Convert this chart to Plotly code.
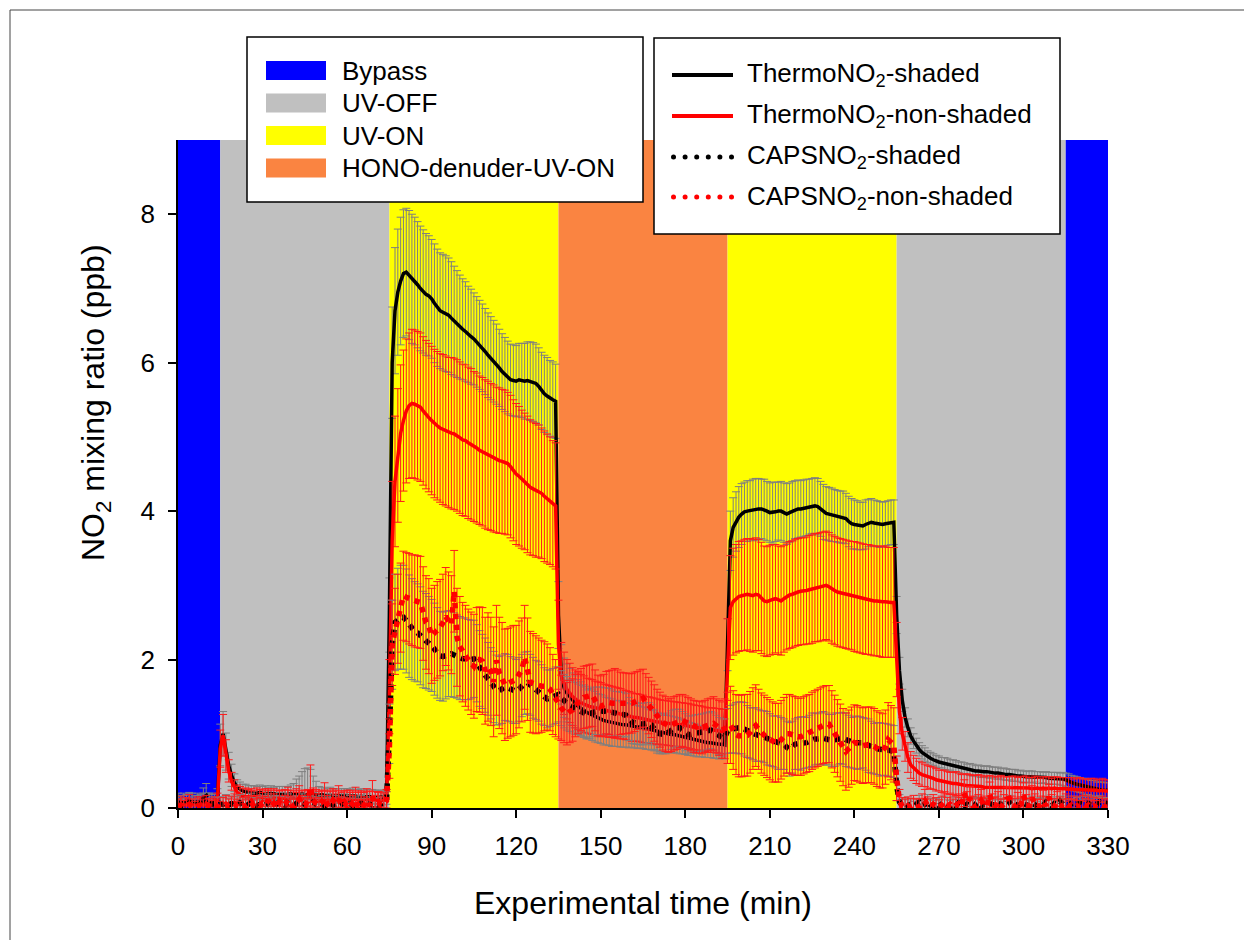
import plotly.graph_objects as go

# ---------------- data ----------------
time_min = list(range(0, 331))

band_start = [0, 15, 75, 135, 195, 255, 315]
band_end = [15, 75, 135, 195, 255, 315, 330]
band_label = ["Bypass", "UV-OFF", "UV-ON", "HONO-denuder-UV-ON", "UV-ON", "UV-OFF", "Bypass"]

band_names = ["Bypass", "UV-OFF", "UV-ON", "HONO-denuder-UV-ON"]
series_names = ["ThermoNO<sub>2</sub>-shaded", "ThermoNO<sub>2</sub>-non-shaded",
                "CAPSNO<sub>2</sub>-shaded", "CAPSNO<sub>2</sub>-non-shaded"]

x_ticks = [0, 30, 60, 90, 120, 150, 180, 210, 240, 270, 300, 330]
y_ticks = [0, 2, 4, 6, 8]

thermo_shaded = [
    0.08, 0.07, 0.08, 0.07, 0.08, 0.08, 0.07, 0.08, 0.07, 0.08,
    0.08, 0.07, 0.08, 0.08, 0.12, 0.85, 1.00, 0.76, 0.57, 0.44,
    0.34, 0.28, 0.25, 0.23, 0.22, 0.21, 0.21, 0.20, 0.20, 0.21,
    0.20, 0.20, 0.19, 0.20, 0.19, 0.19, 0.20, 0.19, 0.18, 0.19,
    0.19, 0.18, 0.19, 0.18, 0.19, 0.18, 0.18, 0.19, 0.18, 0.18,
    0.17, 0.18, 0.17, 0.17, 0.18, 0.17, 0.16, 0.17, 0.16, 0.17,
    0.16, 0.16, 0.17, 0.16, 0.15, 0.16, 0.15, 0.15, 0.16, 0.15,
    0.15, 0.14, 0.15, 0.14, 0.15, 2.60, 6.00, 6.70, 6.95, 7.10,
    7.20, 7.22, 7.18, 7.13, 7.10, 7.05, 7.00, 6.96, 6.92, 6.90,
    6.86, 6.80, 6.74, 6.70, 6.68, 6.66, 6.64, 6.60, 6.56, 6.52,
    6.48, 6.45, 6.42, 6.38, 6.35, 6.32, 6.28, 6.24, 6.20, 6.15,
    6.10, 6.06, 6.02, 5.98, 5.93, 5.88, 5.84, 5.80, 5.77, 5.76,
    5.75, 5.77, 5.76, 5.75, 5.76, 5.75, 5.74, 5.72, 5.68, 5.62,
    5.58, 5.55, 5.52, 5.50, 5.48, 2.60, 1.80, 1.62, 1.55, 1.50,
    1.45, 1.41, 1.37, 1.34, 1.31, 1.29, 1.27, 1.25, 1.23, 1.21,
    1.20, 1.18, 1.17, 1.16, 1.15, 1.14, 1.14, 1.13, 1.12, 1.12,
    1.11, 1.11, 1.10, 1.09, 1.09, 1.08, 1.07, 1.06, 1.05, 1.04,
    1.03, 1.02, 1.01, 1.00, 1.00, 0.99, 0.99, 0.98, 0.97, 0.96,
    0.95, 0.94, 0.93, 0.92, 0.91, 0.90, 0.90, 0.89, 0.88, 0.88,
    0.87, 0.87, 0.86, 0.86, 0.85, 2.20, 3.60, 3.78, 3.86, 3.92,
    3.96, 3.99, 4.00, 4.01, 4.02, 4.02, 4.03, 4.03, 4.02, 4.00,
    3.98, 3.98, 3.99, 4.00, 4.00, 3.98, 3.96, 3.98, 4.00, 4.02,
    4.03, 4.03, 4.04, 4.05, 4.06, 4.07, 4.07, 4.06, 4.03, 3.99,
    3.97, 3.96, 3.95, 3.94, 3.93, 3.92, 3.92, 3.90, 3.86, 3.83,
    3.82, 3.81, 3.80, 3.80, 3.82, 3.84, 3.85, 3.84, 3.83, 3.82,
    3.82, 3.83, 3.84, 3.85, 3.85, 2.60, 1.85, 1.45, 1.22, 1.08,
    0.97, 0.90, 0.84, 0.79, 0.75, 0.72, 0.69, 0.67, 0.65, 0.63,
    0.62, 0.61, 0.60, 0.59, 0.58, 0.57, 0.56, 0.55, 0.54, 0.53,
    0.52, 0.52, 0.51, 0.50, 0.50, 0.49, 0.49, 0.49, 0.48, 0.48,
    0.47, 0.47, 0.46, 0.46, 0.45, 0.45, 0.44, 0.44, 0.43, 0.43,
    0.42, 0.42, 0.42, 0.42, 0.42, 0.41, 0.41, 0.41, 0.41, 0.40,
    0.40, 0.40, 0.40, 0.39, 0.39, 0.38, 0.36, 0.34, 0.33, 0.32,
    0.31, 0.30, 0.29, 0.28, 0.27, 0.26, 0.25, 0.25, 0.24, 0.24,
    0.24]

thermo_shaded_err = [
    0.12, 0.10, 0.12, 0.11, 0.13, 0.12, 0.10, 0.12, 0.11, 0.12,
    0.12, 0.11, 0.12, 0.10, 0.14, 0.28, 0.30, 0.25, 0.18, 0.15,
    0.12, 0.10, 0.10, 0.09, 0.10, 0.09, 0.09, 0.10, 0.09, 0.10,
    0.09, 0.10, 0.09, 0.10, 0.09, 0.10, 0.09, 0.10, 0.11, 0.10,
    0.12, 0.15, 0.20, 0.25, 0.30, 0.35, 0.36, 0.33, 0.25, 0.18,
    0.12, 0.10, 0.10, 0.09, 0.10, 0.09, 0.10, 0.09, 0.10, 0.09,
    0.10, 0.09, 0.10, 0.09, 0.10, 0.10, 0.09, 0.10, 0.09, 0.10,
    0.09, 0.10, 0.09, 0.10, 0.10, 0.50, 0.75, 0.85, 0.85, 0.86,
    0.86, 0.86, 0.87, 0.87, 0.86, 0.85, 0.84, 0.83, 0.82, 0.81,
    0.80, 0.80, 0.79, 0.78, 0.78, 0.78, 0.77, 0.76, 0.74, 0.72,
    0.70, 0.68, 0.67, 0.65, 0.64, 0.62, 0.61, 0.60, 0.59, 0.58,
    0.57, 0.56, 0.55, 0.54, 0.52, 0.51, 0.50, 0.49, 0.48, 0.48,
    0.48, 0.49, 0.50, 0.51, 0.52, 0.53, 0.53, 0.53, 0.52, 0.52,
    0.52, 0.52, 0.51, 0.51, 0.50, 0.45, 0.40, 0.40, 0.39, 0.38,
    0.37, 0.37, 0.36, 0.36, 0.35, 0.35, 0.34, 0.34, 0.34, 0.33,
    0.33, 0.33, 0.32, 0.32, 0.32, 0.31, 0.31, 0.31, 0.30, 0.30,
    0.30, 0.29, 0.29, 0.29, 0.28, 0.28, 0.28, 0.27, 0.27, 0.27,
    0.26, 0.26, 0.26, 0.25, 0.25, 0.25, 0.24, 0.24, 0.24, 0.23,
    0.23, 0.23, 0.22, 0.22, 0.22, 0.21, 0.21, 0.21, 0.20, 0.20,
    0.20, 0.20, 0.20, 0.19, 0.19, 0.35, 0.40, 0.40, 0.40, 0.41,
    0.41, 0.40, 0.41, 0.40, 0.41, 0.42, 0.41, 0.40, 0.41, 0.40,
    0.40, 0.41, 0.40, 0.39, 0.40, 0.40, 0.41, 0.40, 0.40, 0.39,
    0.39, 0.38, 0.38, 0.38, 0.37, 0.37, 0.38, 0.38, 0.37, 0.37,
    0.36, 0.36, 0.36, 0.35, 0.35, 0.35, 0.35, 0.34, 0.34, 0.34,
    0.33, 0.33, 0.32, 0.32, 0.33, 0.32, 0.32, 0.31, 0.31, 0.31,
    0.30, 0.30, 0.30, 0.30, 0.30, 0.25, 0.18, 0.15, 0.13, 0.12,
    0.11, 0.10, 0.10, 0.09, 0.09, 0.09, 0.08, 0.08, 0.08, 0.08,
    0.08, 0.07, 0.08, 0.08, 0.07, 0.08, 0.08, 0.07, 0.08, 0.08,
    0.07, 0.08, 0.08, 0.07, 0.08, 0.08, 0.07, 0.08, 0.08, 0.07,
    0.08, 0.08, 0.07, 0.08, 0.08, 0.07, 0.08, 0.08, 0.07, 0.08,
    0.08, 0.07, 0.08, 0.08, 0.07, 0.08, 0.08, 0.07, 0.08, 0.08,
    0.08, 0.08, 0.08, 0.08, 0.09, 0.09, 0.10, 0.10, 0.10, 0.10,
    0.10, 0.10, 0.11, 0.10, 0.10, 0.11, 0.10, 0.10, 0.11, 0.10,
    0.10]

thermo_nonshaded = [
    0.04, 0.05, 0.04, 0.04, 0.05, 0.04, 0.04, 0.05, 0.04, 0.04,
    0.04, 0.05, 0.04, 0.04, 0.10, 0.80, 0.98, 0.70, 0.50, 0.36,
    0.27, 0.21, 0.18, 0.16, 0.15, 0.15, 0.15, 0.14, 0.15, 0.14,
    0.14, 0.14, 0.13, 0.14, 0.14, 0.13, 0.14, 0.13, 0.13, 0.14,
    0.13, 0.13, 0.14, 0.13, 0.13, 0.12, 0.13, 0.13, 0.12, 0.13,
    0.12, 0.13, 0.12, 0.12, 0.13, 0.12, 0.12, 0.12, 0.11, 0.12,
    0.12, 0.11, 0.12, 0.11, 0.11, 0.12, 0.11, 0.11, 0.11, 0.12,
    0.11, 0.11, 0.10, 0.11, 0.11, 1.50, 3.60, 4.40, 4.75, 5.05,
    5.22, 5.35, 5.42, 5.45, 5.44, 5.42, 5.40, 5.35, 5.30, 5.26,
    5.22, 5.18, 5.15, 5.12, 5.10, 5.08, 5.06, 5.05, 5.04, 5.02,
    4.99, 4.96, 4.95, 4.92, 4.90, 4.87, 4.85, 4.82, 4.80, 4.77,
    4.75, 4.73, 4.71, 4.69, 4.68, 4.67, 4.66, 4.64, 4.60, 4.55,
    4.50, 4.47, 4.43, 4.40, 4.36, 4.32, 4.30, 4.28, 4.27, 4.24,
    4.20, 4.17, 4.14, 4.10, 4.07, 2.20, 1.78, 1.68, 1.60, 1.55,
    1.50, 1.47, 1.44, 1.42, 1.40, 1.38, 1.37, 1.36, 1.35, 1.34,
    1.33, 1.32, 1.31, 1.30, 1.30, 1.29, 1.28, 1.27, 1.26, 1.25,
    1.24, 1.23, 1.22, 1.22, 1.21, 1.20, 1.19, 1.19, 1.18, 1.17,
    1.16, 1.16, 1.15, 1.15, 1.14, 1.14, 1.13, 1.13, 1.12, 1.12,
    1.11, 1.11, 1.10, 1.09, 1.08, 1.08, 1.07, 1.06, 1.05, 1.05,
    1.05, 1.04, 1.04, 1.03, 1.03, 2.00, 2.70, 2.78, 2.82, 2.85,
    2.86, 2.87, 2.88, 2.87, 2.86, 2.88, 2.87, 2.83, 2.79, 2.78,
    2.80, 2.81, 2.82, 2.80, 2.79, 2.82, 2.85, 2.87, 2.88, 2.90,
    2.91, 2.92, 2.92, 2.93, 2.94, 2.95, 2.97, 2.97, 2.98, 2.99,
    3.00, 2.98, 2.95, 2.93, 2.91, 2.90, 2.89, 2.88, 2.87, 2.86,
    2.85, 2.84, 2.83, 2.82, 2.81, 2.81, 2.80, 2.79, 2.79, 2.78,
    2.78, 2.78, 2.77, 2.77, 2.77, 2.00, 1.30, 1.00, 0.83, 0.68,
    0.58, 0.54, 0.50, 0.47, 0.45, 0.44, 0.42, 0.41, 0.40, 0.38,
    0.37, 0.36, 0.35, 0.34, 0.34, 0.33, 0.33, 0.32, 0.31, 0.31,
    0.30, 0.30, 0.30, 0.29, 0.29, 0.29, 0.28, 0.28, 0.28, 0.28,
    0.28, 0.27, 0.28, 0.27, 0.28, 0.27, 0.27, 0.28, 0.27, 0.27,
    0.27, 0.28, 0.27, 0.26, 0.27, 0.27, 0.26, 0.27, 0.26, 0.27,
    0.26, 0.27, 0.26, 0.26, 0.27, 0.26, 0.25, 0.26, 0.25, 0.25,
    0.25, 0.24, 0.25, 0.24, 0.24, 0.25, 0.24, 0.23, 0.24, 0.23,
    0.23]

thermo_nonshaded_err = [
    0.08, 0.07, 0.09, 0.08, 0.07, 0.08, 0.09, 0.08, 0.07, 0.08,
    0.08, 0.07, 0.08, 0.08, 0.10, 0.25, 0.28, 0.22, 0.15, 0.12,
    0.11, 0.10, 0.11, 0.10, 0.12, 0.10, 0.11, 0.10, 0.12, 0.11,
    0.10, 0.12, 0.11, 0.10, 0.12, 0.11, 0.10, 0.11, 0.12, 0.10,
    0.11, 0.10, 0.12, 0.11, 0.10, 0.12, 0.11, 0.10, 0.11, 0.12,
    0.10, 0.11, 0.12, 0.10, 0.11, 0.10, 0.12, 0.11, 0.10, 0.11,
    0.12, 0.10, 0.11, 0.10, 0.12, 0.11, 0.10, 0.11, 0.12, 0.10,
    0.11, 0.10, 0.12, 0.10, 0.11, 0.50, 0.80, 0.88, 0.90, 0.92,
    0.95, 0.97, 0.98, 1.00, 1.00, 1.00, 1.00, 1.00, 1.00, 1.00,
    1.00, 1.00, 1.00, 1.00, 1.01, 1.01, 1.01, 1.02, 1.02, 1.02,
    1.02, 1.02, 1.02, 1.02, 1.02, 1.01, 1.01, 1.00, 1.00, 1.00,
    1.00, 0.99, 0.99, 0.98, 0.98, 0.97, 0.97, 0.96, 0.96, 0.95,
    0.95, 0.94, 0.93, 0.92, 0.92, 0.91, 0.90, 0.90, 0.89, 0.88,
    0.88, 0.87, 0.86, 0.85, 0.85, 0.60, 0.45, 0.42, 0.40, 0.40,
    0.39, 0.39, 0.38, 0.38, 0.38, 0.37, 0.37, 0.37, 0.36, 0.36,
    0.36, 0.35, 0.35, 0.35, 0.34, 0.34, 0.34, 0.34, 0.33, 0.33,
    0.33, 0.33, 0.32, 0.32, 0.32, 0.32, 0.31, 0.31, 0.31, 0.31,
    0.31, 0.30, 0.30, 0.30, 0.30, 0.30, 0.30, 0.30, 0.30, 0.30,
    0.30, 0.30, 0.30, 0.30, 0.30, 0.30, 0.30, 0.30, 0.30, 0.30,
    0.30, 0.30, 0.30, 0.30, 0.30, 0.55, 0.70, 0.72, 0.73, 0.74,
    0.74, 0.75, 0.75, 0.76, 0.76, 0.76, 0.75, 0.75, 0.74, 0.74,
    0.74, 0.74, 0.73, 0.73, 0.73, 0.72, 0.72, 0.72, 0.72, 0.72,
    0.72, 0.72, 0.72, 0.72, 0.73, 0.73, 0.73, 0.73, 0.73, 0.73,
    0.73, 0.73, 0.73, 0.73, 0.73, 0.73, 0.73, 0.73, 0.73, 0.73,
    0.74, 0.74, 0.74, 0.74, 0.74, 0.74, 0.74, 0.74, 0.74, 0.74,
    0.75, 0.75, 0.74, 0.74, 0.74, 0.50, 0.30, 0.22, 0.20, 0.20,
    0.18, 0.17, 0.17, 0.16, 0.16, 0.15, 0.15, 0.15, 0.15, 0.15,
    0.14, 0.15, 0.16, 0.15, 0.14, 0.15, 0.16, 0.15, 0.14, 0.15,
    0.16, 0.15, 0.14, 0.15, 0.16, 0.15, 0.14, 0.15, 0.16, 0.15,
    0.14, 0.15, 0.16, 0.15, 0.14, 0.15, 0.16, 0.15, 0.14, 0.15,
    0.16, 0.15, 0.14, 0.15, 0.16, 0.15, 0.14, 0.15, 0.16, 0.15,
    0.14, 0.15, 0.16, 0.15, 0.14, 0.15, 0.16, 0.15, 0.14, 0.15,
    0.16, 0.15, 0.14, 0.15, 0.16, 0.15, 0.14, 0.15, 0.16, 0.15,
    0.15]

caps_shaded = [
    0.05, 0.03, 0.06, 0.04, 0.08, 0.05, 0.03, 0.06, 0.04, 0.12,
    0.15, 0.08, 0.05, 0.06, 0.04, 0.06, 0.05, 0.07, 0.04, 0.06,
    0.05, 0.03, 0.07, 0.04, 0.02, 0.05, 0.08, 0.04, 0.03, 0.05,
    0.06, 0.04, 0.07, 0.05, 0.03, 0.06, 0.08, 0.05, 0.04, 0.07,
    0.05, 0.03, 0.06, 0.04, 0.07, 0.05, 0.03, 0.06, 0.08, 0.05,
    0.04, 0.06, 0.03, 0.05, 0.07, 0.04, 0.06, 0.03, 0.05, 0.07,
    0.04, 0.06, 0.03, 0.05, 0.04, 0.06, 0.03, 0.07, 0.05, 0.04,
    0.06, 0.04, 0.05, 0.07, 0.10, 1.00, 2.20, 2.50, 2.55, 2.57,
    2.57, 2.52, 2.45, 2.41, 2.38, 2.36, 2.32, 2.27, 2.25, 2.22,
    2.19, 2.14, 2.09, 2.05, 2.04, 2.06, 2.08, 2.08, 2.06, 2.04,
    2.02, 2.01, 2.01, 2.00, 2.00, 2.01, 1.95, 1.88, 1.84, 1.79,
    1.74, 1.68, 1.63, 1.59, 1.58, 1.60, 1.63, 1.62, 1.60, 1.58,
    1.57, 1.60, 1.65, 1.68, 1.69, 1.66, 1.62, 1.59, 1.57, 1.53,
    1.50, 1.47, 1.48, 1.50, 1.52, 1.53, 1.48, 1.44, 1.41, 1.38,
    1.36, 1.34, 1.33, 1.31, 1.29, 1.26, 1.27, 1.29, 1.31, 1.31,
    1.31, 1.30, 1.31, 1.30, 1.28, 1.27, 1.27, 1.26, 1.26, 1.25,
    1.20, 1.16, 1.15, 1.14, 1.13, 1.13, 1.14, 1.15, 1.12, 1.06,
    1.01, 1.00, 0.99, 0.99, 1.02, 1.05, 1.07, 1.08, 1.08, 1.05,
    1.02, 0.99, 0.99, 1.00, 1.01, 1.01, 1.02, 1.03, 1.04, 1.05,
    1.03, 1.00, 0.97, 0.95, 0.95, 1.04, 1.06, 1.07, 1.08, 1.08,
    1.08, 1.06, 1.03, 1.01, 1.00, 0.99, 0.98, 0.97, 0.96, 0.94,
    0.92, 0.90, 0.89, 0.88, 0.87, 0.86, 0.82, 0.79, 0.82, 0.86,
    0.87, 0.87, 0.88, 0.88, 0.90, 0.92, 0.93, 0.93, 0.94, 0.94,
    0.93, 0.92, 0.91, 0.92, 0.93, 0.94, 0.94, 0.92, 0.90, 0.88,
    0.88, 0.88, 0.88, 0.88, 0.86, 0.84, 0.82, 0.80, 0.80, 0.79,
    0.79, 0.79, 0.78, 0.77, 0.76, 0.30, 0.08, 0.04, 0.06, 0.03,
    0.05, 0.02, 0.04, 0.08, 0.03, 0.05, 0.10, 0.04, 0.02, 0.06,
    0.03, 0.05, 0.08, 0.04, 0.02, 0.06, 0.03, 0.07, 0.04, 0.02,
    0.05, 0.03, 0.06, 0.04, 0.08, 0.03, 0.05, 0.02, 0.06, 0.04,
    0.03, 0.07, 0.04, 0.02, 0.05, 0.08, 0.03, 0.05, 0.04, 0.02,
    0.06, 0.04, 0.03, 0.07, 0.05, 0.02, 0.06, 0.04, 0.08, 0.05,
    0.03, 0.06, 0.04, 0.09, 0.05, 0.07, 0.04, 0.06, 0.08, 0.05,
    0.07, 0.05, 0.08, 0.06, 0.04, 0.07, 0.05, 0.08, 0.06, 0.07,
    0.06]

caps_shaded_err = [
    0.10, 0.09, 0.11, 0.10, 0.12, 0.10, 0.09, 0.11, 0.10, 0.15,
    0.18, 0.12, 0.10, 0.09, 0.10, 0.09, 0.10, 0.11, 0.09, 0.10,
    0.10, 0.09, 0.11, 0.10, 0.09, 0.10, 0.12, 0.10, 0.09, 0.10,
    0.11, 0.10, 0.12, 0.10, 0.09, 0.11, 0.13, 0.10, 0.10, 0.12,
    0.10, 0.09, 0.11, 0.10, 0.12, 0.10, 0.09, 0.11, 0.13, 0.10,
    0.09, 0.11, 0.10, 0.10, 0.12, 0.09, 0.11, 0.10, 0.10, 0.12,
    0.09, 0.11, 0.10, 0.10, 0.09, 0.11, 0.10, 0.12, 0.10, 0.09,
    0.11, 0.10, 0.10, 0.12, 0.12, 0.40, 0.60, 0.65, 0.68, 0.70,
    0.70, 0.70, 0.69, 0.68, 0.67, 0.66, 0.66, 0.65, 0.64, 0.63,
    0.62, 0.62, 0.61, 0.60, 0.60, 0.59, 0.58, 0.58, 0.57, 0.56,
    0.56, 0.55, 0.55, 0.54, 0.53, 0.52, 0.52, 0.51, 0.50, 0.50,
    0.49, 0.48, 0.48, 0.47, 0.46, 0.46, 0.45, 0.45, 0.44, 0.44,
    0.43, 0.43, 0.42, 0.42, 0.42, 0.41, 0.41, 0.40, 0.40, 0.40,
    0.39, 0.39, 0.38, 0.38, 0.38, 0.37, 0.37, 0.36, 0.36, 0.35,
    0.35, 0.35, 0.34, 0.34, 0.34, 0.33, 0.33, 0.33, 0.32, 0.32,
    0.32, 0.32, 0.31, 0.31, 0.31, 0.30, 0.30, 0.30, 0.30, 0.29,
    0.29, 0.29, 0.29, 0.28, 0.28, 0.28, 0.28, 0.27, 0.27, 0.27,
    0.27, 0.27, 0.26, 0.26, 0.26, 0.26, 0.26, 0.25, 0.25, 0.25,
    0.25, 0.25, 0.25, 0.25, 0.25, 0.25, 0.25, 0.25, 0.25, 0.25,
    0.25, 0.25, 0.25, 0.25, 0.25, 0.30, 0.32, 0.33, 0.34, 0.35,
    0.35, 0.36, 0.35, 0.34, 0.35, 0.36, 0.35, 0.34, 0.35, 0.36,
    0.35, 0.34, 0.35, 0.36, 0.35, 0.34, 0.35, 0.36, 0.35, 0.34,
    0.35, 0.36, 0.35, 0.34, 0.35, 0.36, 0.35, 0.34, 0.35, 0.36,
    0.35, 0.34, 0.35, 0.36, 0.35, 0.34, 0.35, 0.36, 0.35, 0.34,
    0.35, 0.36, 0.35, 0.34, 0.35, 0.36, 0.35, 0.34, 0.35, 0.36,
    0.35, 0.35, 0.35, 0.35, 0.35, 0.20, 0.10, 0.08, 0.08, 0.08,
    0.08, 0.07, 0.08, 0.09, 0.08, 0.07, 0.08, 0.09, 0.08, 0.07,
    0.08, 0.09, 0.08, 0.07, 0.08, 0.09, 0.08, 0.07, 0.08, 0.09,
    0.08, 0.07, 0.08, 0.09, 0.08, 0.07, 0.08, 0.09, 0.08, 0.07,
    0.08, 0.09, 0.08, 0.07, 0.08, 0.09, 0.08, 0.07, 0.08, 0.09,
    0.08, 0.07, 0.08, 0.09, 0.08, 0.07, 0.08, 0.09, 0.08, 0.07,
    0.08, 0.09, 0.08, 0.07, 0.08, 0.09, 0.08, 0.07, 0.08, 0.09,
    0.08, 0.07, 0.08, 0.09, 0.08, 0.07, 0.08, 0.09, 0.08, 0.07,
    0.08]

caps_nonshaded = [
    0.02, 0.04, 0.01, 0.03, 0.05, 0.02, 0.00, 0.03, 0.04, 0.02,
    0.05, 0.03, 0.01, 0.04, 0.02, 0.00, 0.03, 0.05, 0.02, 0.04,
    0.06, 0.02, 0.00, 0.03, 0.01, 0.04, 0.08, 0.02, 0.05, 0.03,
    0.07, 0.04, 0.10, 0.02, 0.06, 0.00, 0.08, 0.03, 0.05, 0.11,
    0.04, 0.02, 0.07, 0.12, 0.05, 0.03, 0.09, 0.28, 0.10, 0.06,
    0.03, 0.08, 0.14, 0.05, 0.02, 0.10, 0.06, 0.12, 0.04, 0.08,
    0.03, 0.09, 0.05, 0.11, 0.02, 0.07, 0.04, 0.10, 0.03, 0.15,
    0.05, 0.08, 0.04, 0.06, 0.10, 0.80, 2.20, 2.38, 2.55, 2.70,
    2.86, 2.84, 2.82, 2.80, 2.79, 2.78, 2.77, 2.62, 2.50, 2.45,
    2.32, 2.36, 2.40, 2.43, 2.50, 2.58, 2.52, 2.47, 2.92, 2.30,
    2.18, 2.10, 2.05, 2.00, 1.95, 1.91, 2.00, 2.00, 1.98, 1.85,
    1.90, 1.84, 1.70, 1.99, 1.82, 1.75, 1.66, 1.68, 1.70, 1.72,
    1.73, 1.80, 1.86, 2.03, 1.87, 1.70, 1.68, 1.66, 1.65, 1.64,
    1.64, 1.63, 1.60, 1.53, 1.48, 1.41, 1.35, 1.30, 1.27, 1.30,
    1.32, 1.38, 1.42, 1.46, 1.49, 1.50, 1.51, 1.52, 1.45, 1.38,
    1.37, 1.39, 1.42, 1.42, 1.41, 1.41, 1.41, 1.41, 1.41, 1.41,
    1.41, 1.41, 1.43, 1.45, 1.47, 1.48, 1.43, 1.38, 1.33, 1.28,
    1.23, 1.19, 1.15, 1.13, 1.11, 1.12, 1.14, 1.15, 1.17, 1.18,
    1.16, 1.14, 1.12, 1.10, 1.09, 1.09, 1.08, 1.10, 1.12, 1.13,
    1.14, 1.11, 1.08, 1.05, 1.07, 1.08, 1.12, 1.05, 0.99, 0.97,
    0.97, 0.98, 0.98, 1.02, 1.07, 1.11, 1.06, 1.01, 0.98, 0.95,
    0.92, 0.89, 0.88, 0.88, 0.92, 0.96, 1.00, 1.00, 0.98, 0.97,
    0.96, 0.96, 0.98, 1.00, 1.01, 1.04, 1.06, 1.08, 1.10, 1.12,
    1.13, 1.13, 1.06, 1.00, 0.94, 0.88, 0.82, 0.76, 0.80, 0.84,
    0.88, 0.87, 0.85, 0.84, 0.85, 0.85, 0.85, 0.83, 0.80, 0.78,
    0.77, 0.82, 0.92, 0.88, 0.85, 0.40, 0.10, 0.02, 0.00, 0.03,
    0.01, 0.04, 0.00, 0.02, 0.06, 0.10, 0.03, 0.01, 0.05, 0.02,
    0.00, 0.04, 0.08, 0.02, 0.05, 0.01, 0.03, 0.06, 0.02, 0.20,
    0.08, 0.13, 0.03, 0.01, 0.05, 0.10, 0.04, 0.02, 0.18, 0.06,
    0.03, 0.08, 0.01, 0.05, 0.12, 0.13, 0.04, 0.02, 0.07, 0.03,
    0.17, 0.05, 0.02, 0.14, 0.06, 0.01, 0.04, 0.09, 0.03, 0.15,
    0.05, 0.02, 0.08, 0.03, 0.01, 0.06, 0.02, 0.04, 0.01, 0.03,
    0.00, 0.05, 0.02, 0.04, 0.01, 0.03, 0.00, 0.02, 0.04, 0.01,
    0.02]

caps_nonshaded_err = [
    0.10, 0.12, 0.09, 0.11, 0.13, 0.10, 0.09, 0.12, 0.11, 0.10,
    0.12, 0.10, 0.09, 0.11, 0.10, 0.09, 0.11, 0.12, 0.10, 0.11,
    0.13, 0.10, 0.09, 0.11, 0.10, 0.12, 0.15, 0.10, 0.12, 0.11,
    0.14, 0.12, 0.16, 0.10, 0.13, 0.09, 0.15, 0.11, 0.12, 0.17,
    0.12, 0.10, 0.14, 0.18, 0.12, 0.11, 0.16, 0.30, 0.17, 0.13,
    0.11, 0.15, 0.20, 0.12, 0.10, 0.16, 0.13, 0.18, 0.11, 0.15,
    0.10, 0.15, 0.12, 0.17, 0.10, 0.14, 0.11, 0.16, 0.10, 0.22,
    0.12, 0.14, 0.11, 0.13, 0.15, 0.40, 0.55, 0.58, 0.60, 0.60,
    0.60, 0.60, 0.61, 0.61, 0.62, 0.62, 0.62, 0.63, 0.63, 0.64,
    0.64, 0.64, 0.65, 0.65, 0.65, 0.66, 0.66, 0.66, 0.55, 0.66,
    0.67, 0.67, 0.68, 0.68, 0.69, 0.70, 0.70, 0.71, 0.72, 0.72,
    0.73, 0.73, 0.74, 0.74, 0.75, 0.75, 0.75, 0.74, 0.74, 0.74,
    0.73, 0.72, 0.70, 0.70, 0.69, 0.68, 0.67, 0.66, 0.64, 0.62,
    0.60, 0.58, 0.56, 0.54, 0.52, 0.48, 0.44, 0.42, 0.42, 0.42,
    0.42, 0.42, 0.42, 0.42, 0.42, 0.42, 0.42, 0.42, 0.41, 0.41,
    0.41, 0.41, 0.42, 0.43, 0.45, 0.47, 0.45, 0.42, 0.41, 0.41,
    0.40, 0.40, 0.40, 0.39, 0.39, 0.39, 0.38, 0.38, 0.38, 0.38,
    0.37, 0.37, 0.37, 0.37, 0.36, 0.36, 0.36, 0.36, 0.36, 0.35,
    0.35, 0.35, 0.35, 0.35, 0.35, 0.35, 0.35, 0.35, 0.35, 0.35,
    0.36, 0.36, 0.37, 0.38, 0.40, 0.48, 0.52, 0.53, 0.54, 0.55,
    0.55, 0.55, 0.55, 0.55, 0.55, 0.55, 0.54, 0.54, 0.54, 0.54,
    0.54, 0.54, 0.53, 0.53, 0.53, 0.53, 0.53, 0.53, 0.53, 0.53,
    0.52, 0.52, 0.52, 0.52, 0.52, 0.52, 0.52, 0.52, 0.52, 0.52,
    0.52, 0.52, 0.52, 0.52, 0.52, 0.52, 0.52, 0.52, 0.52, 0.52,
    0.51, 0.51, 0.51, 0.51, 0.51, 0.51, 0.51, 0.51, 0.51, 0.51,
    0.50, 0.50, 0.50, 0.50, 0.50, 0.30, 0.15, 0.12, 0.12, 0.12,
    0.12, 0.13, 0.12, 0.11, 0.13, 0.15, 0.12, 0.11, 0.13, 0.12,
    0.11, 0.12, 0.14, 0.12, 0.13, 0.11, 0.12, 0.13, 0.12, 0.18,
    0.14, 0.16, 0.12, 0.11, 0.13, 0.15, 0.12, 0.11, 0.17, 0.13,
    0.12, 0.14, 0.11, 0.13, 0.16, 0.16, 0.12, 0.11, 0.14, 0.12,
    0.17, 0.13, 0.11, 0.16, 0.13, 0.11, 0.12, 0.15, 0.12, 0.17,
    0.13, 0.11, 0.14, 0.12, 0.11, 0.13, 0.11, 0.12, 0.11, 0.12,
    0.10, 0.12, 0.11, 0.12, 0.10, 0.11, 0.10, 0.11, 0.12, 0.10,
    0.11]

# ---------------- styling ----------------
band_colors = {"Bypass": "#0000FF", "UV-OFF": "#C0C0C0",
               "UV-ON": "#FFFF00", "HONO-denuder-UV-ON": "#FA8441"}
FONT = "Liberation Sans, Arial, Helvetica, sans-serif"
LEG_SIZE = 26
TICK_SIZE = 26
TITLE_SIZE = 32

W, H = 1244, 940
PL, PR, PT, PB = 178, 1108, 140, 808


def fx(p):
    return (p - PL) / (PR - PL)


def fy(p):
    return (PB - p) / (PB - PT)


fig = go.Figure()

series = [
    (thermo_shaded, thermo_shaded_err, "black", "#7f7f7f", "solid", 3.5),
    (thermo_nonshaded, thermo_nonshaded_err, "#FF0000", "#FF1a1a", "solid", 3.5),
    (caps_shaded, caps_shaded_err, "black", "#7f7f7f", "5.5px,5.5px", 5.5),
    (caps_nonshaded, caps_nonshaded_err, "#FF0000", "#FF1a1a", "5.5px,5.5px", 5.5),
]
for (yv, ev, col, ecol, dash, w), nm in zip(series, series_names):
    fig.add_trace(go.Scatter(
        x=time_min, y=yv, mode="lines", name=nm,
        line=dict(color=col, width=w, dash=dash),
        error_y=dict(type="data", array=ev, visible=True, color=ecol,
                     thickness=1, width=4),
        showlegend=False, hoverinfo="skip"))

shapes = []
annotations = []

# background bands (data coordinates)
for s, e, lab in zip(band_start, band_end, band_label):
    shapes.append(dict(type="rect", xref="x", yref="y", x0=s, x1=e, y0=0, y1=9,
                       fillcolor=band_colors[lab], line=dict(width=0), layer="below"))

# outer frame lines (top and left)
shapes.append(dict(type="line", xref="paper", yref="paper", x0=fx(10), x1=fx(1244),
                   y0=fy(10), y1=fy(10), line=dict(color="#444444", width=1), layer="above"))
shapes.append(dict(type="line", xref="paper", yref="paper", x0=fx(10), x1=fx(10),
                   y0=fy(10), y1=fy(940), line=dict(color="#444444", width=1), layer="above"))

# legend 1 (bands)
shapes.append(dict(type="rect", xref="paper", yref="paper", x0=fx(247), x1=fx(643),
                   y0=fy(202), y1=fy(37), fillcolor="white",
                   line=dict(color="black", width=1.5), layer="above"))
leg1_rows = [70.5, 103, 135.5, 168]
for name, ry in zip(band_names, leg1_rows):
    shapes.append(dict(type="rect", xref="paper", yref="paper", x0=fx(266), x1=fx(326),
                       y0=fy(ry + 9.5), y1=fy(ry - 9.5), fillcolor=band_colors[name],
                       line=dict(width=0), layer="above"))
    annotations.append(dict(xref="paper", yref="paper", x=fx(340), y=fy(ry),
                            xanchor="left", yanchor="middle", text=name, showarrow=False,
                            font=dict(size=LEG_SIZE, family=FONT, color="black")))

# legend 2 (series)
shapes.append(dict(type="rect", xref="paper", yref="paper", x0=fx(654), x1=fx(1060),
                   y0=fy(234), y1=fy(38), fillcolor="white",
                   line=dict(color="black", width=1.5), layer="above"))
leg2_rows = [75, 116, 157, 197]
leg2_colors = ["black", "#FF0000", "black", "#FF0000"]
leg2_dotted = [False, False, True, True]
for name, ry, col, dotted in zip(series_names, leg2_rows, leg2_colors, leg2_dotted):
    if not dotted:
        shapes.append(dict(type="line", xref="paper", yref="paper", x0=fx(672), x1=fx(733),
                           y0=fy(ry), y1=fy(ry), line=dict(color=col, width=4), layer="above"))
    else:
        for k in range(6):
            cx = 673.5 + k * 11.6
            shapes.append(dict(type="circle", xref="paper", yref="paper",
                               xsizemode="pixel", ysizemode="pixel",
                               xanchor=fx(cx), yanchor=fy(ry),
                               x0=-2.5, x1=2.5, y0=-2.5, y1=2.5,
                               fillcolor=col, line=dict(width=0), layer="above"))
    annotations.append(dict(xref="paper", yref="paper", x=fx(745), y=fy(ry),
                            xanchor="left", yanchor="middle", text=name, showarrow=False,
                            font=dict(size=LEG_SIZE, family=FONT, color="black")))

# axis titles
annotations.append(dict(xref="paper", yref="paper", x=0.5, y=fy(903), xanchor="center",
                        yanchor="middle", text="Experimental time (min)", showarrow=False,
                        font=dict(size=TITLE_SIZE, family=FONT, color="black")))
annotations.append(dict(xref="paper", yref="paper", x=fx(95), y=fy(403), xanchor="center",
                        yanchor="middle", textangle=-90,
                        text="NO<sub>2</sub> mixing ratio (ppb)", showarrow=False,
                        font=dict(size=TITLE_SIZE, family=FONT, color="black")))

fig.update_layout(
    width=W, height=H,
    margin=dict(l=PL, r=W - PR, t=PT, b=H - PB, pad=0),
    paper_bgcolor="white", plot_bgcolor="white",
    showlegend=False,
    font=dict(family=FONT, color="black"),
)
fig.layout.shapes = shapes
fig.layout.annotations = annotations

fig.update_xaxes(range=[0, 330], tickvals=x_ticks, ticks="outside", ticklen=8,
                 tickwidth=1.5, tickcolor="black", showline=True, linecolor="black",
                 linewidth=1.5, showgrid=False, zeroline=False,
                 tickfont=dict(size=TICK_SIZE, family=FONT, color="black"),
                 ticklabelstandoff=6)
fig.update_yaxes(range=[0, 9], tickvals=y_ticks, ticks="outside", ticklen=8,
                 tickwidth=1.5, tickcolor="black", showline=True, linecolor="black",
                 linewidth=1.5, showgrid=False, zeroline=False,
                 tickfont=dict(size=TICK_SIZE, family=FONT, color="black"),
                 ticklabelstandoff=8)

fig.write_html("out.html")
